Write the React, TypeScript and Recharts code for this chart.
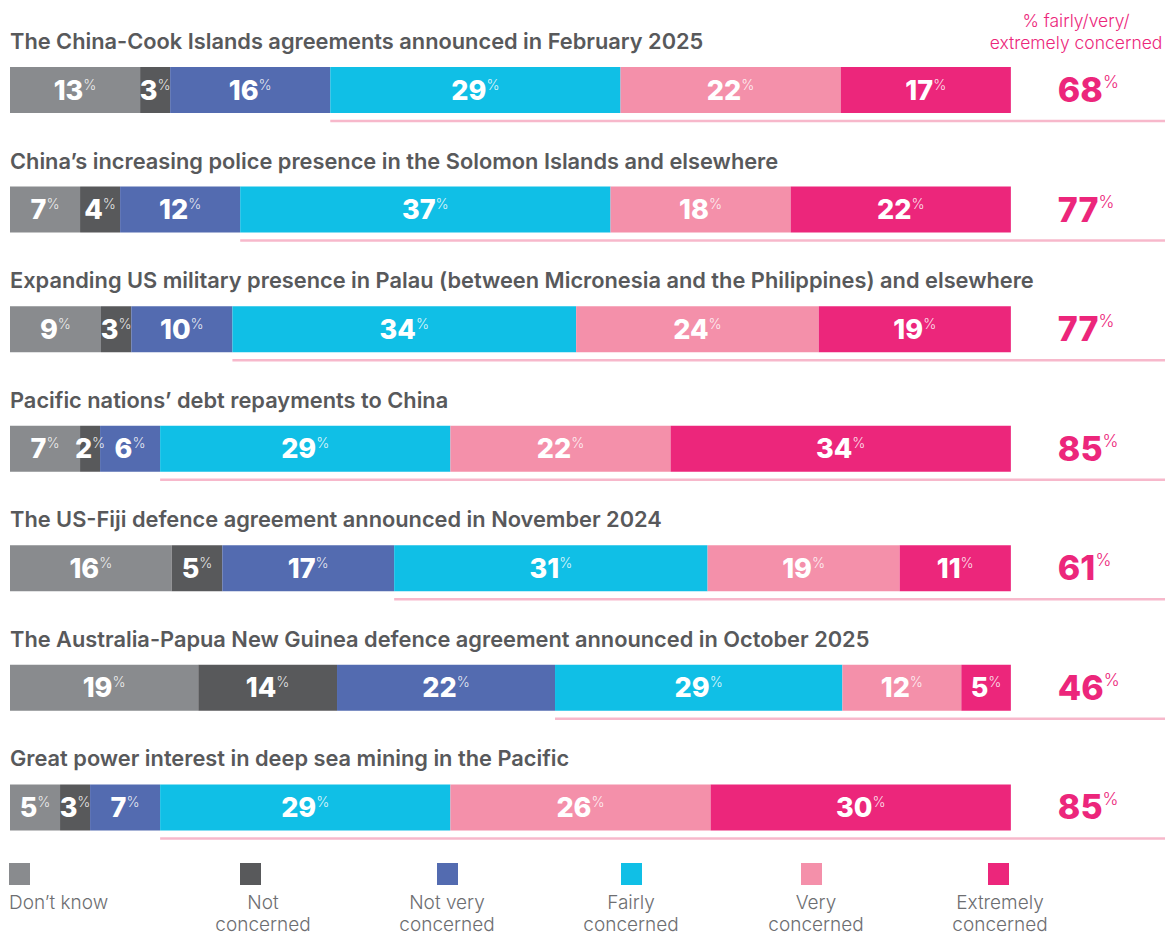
import { BarChart, Bar, XAxis, YAxis, LabelList } from "recharts";

const topics = [
  "The China-Cook Islands agreements announced in February 2025",
  "China\u2019s increasing police presence in the Solomon Islands and elsewhere",
  "Expanding US military presence in Palau (between Micronesia and the Philippines) and elsewhere",
  "Pacific nations\u2019 debt repayments to China",
  "The US-Fiji defence agreement announced in November 2024",
  "The Australia-Papua New Guinea defence agreement announced in October 2025",
  "Great power interest in deep sea mining in the Pacific",
];

const dontKnow = [13, 7, 9, 7, 16, 19, 5];
const notConcerned = [3, 4, 3, 2, 5, 14, 3];
const notVery = [16, 12, 10, 6, 17, 22, 7];
const fairly = [29, 37, 34, 29, 31, 29, 29];
const very = [22, 18, 24, 22, 19, 12, 26];
const extremely = [17, 22, 19, 34, 11, 5, 30];
const concernedTotals = [68, 77, 77, 85, 61, 46, 85];

const SERIES = [
  { key: "dontKnow", name: "Don\u2019t know", color: "#898b8e", values: dontKnow },
  { key: "notConcerned", name: "Not|concerned", color: "#58595b", values: notConcerned },
  { key: "notVery", name: "Not very|concerned", color: "#536bb0", values: notVery },
  { key: "fairly", name: "Fairly|concerned", color: "#10bfe6", values: fairly },
  { key: "very", name: "Very|concerned", color: "#f490aa", values: very },
  { key: "extremely", name: "Extremely|concerned", color: "#ec267b", values: extremely },
];

const PINK = "#ec267b";
const GREY_TEXT = "#58595b";
const W = 1166;
const H = 928;
const MARGIN = { top: 22, right: 9, bottom: 69, left: 2 };
const X_MAX = 115.4; // 100% sits at the end of the bars, the rest is room for the totals
const PLOT_END = W - MARGIN.right;

const data = topics.map((topic, i) => {
  const sum = SERIES.reduce((s, ser) => s + ser.values[i], 0);
  const row: Record<string, string | number> = { topic, total: concernedTotals[i] };
  SERIES.forEach((ser) => {
    row[ser.key] = (ser.values[i] / sum) * 100;
    row[ser.key + "Label"] = ser.values[i];
  });
  return row;
});

const NUM_FONT = "Inter, 'Open Sans', sans-serif";

const SegmentLabel = (props: any) => {
  const { x, y, width, height, value } = props;
  const cx = x + width / 2;
  const by = y + height / 2 + 9.5;
  return (
    <text x={cx} y={by} textAnchor="middle" fontFamily={NUM_FONT}>
      <tspan fontSize={27} fontWeight={800} fill="#fff">{value}</tspan>
      <tspan fontSize={14} fontWeight={300} fill="#fff" fillOpacity={0.85} dy={-10}>%</tspan>
    </text>
  );
};

const TitleLabel = (props: any) => {
  const { x, y, value } = props;
  return (
    <text x={x} y={y - 18} fontFamily={NUM_FONT} fontSize={21.8} fontWeight={600} fill={GREY_TEXT}>
      {value}
    </text>
  );
};

const TotalLabel = (props: any) => {
  const { x, y, width, value } = props;
  return (
    <text x={x + width + 47} y={y + 35} fontFamily={NUM_FONT} fill={PINK}>
      <tspan fontSize={34} fontWeight={800}>{value}</tspan>
      <tspan fontSize={17} fontWeight={300} dy={-14}>%</tspan>
    </text>
  );
};

const Underline = (props: any) => {
  const { x, y, height } = props;
  const ly = y + height + 8;
  return <line x1={x} x2={PLOT_END} y1={ly} y2={ly} stroke="#f7b8cb" strokeWidth={2.5} />;
};

const legendX = [1, 232, 429, 613, 793, 980];
const legendTextX = [1, 255, 439, 623, 808, 992];

export default function App() {
  return (
    <div style={{ position: "relative", width: W, height: H }}>
      <BarChart
        width={W}
        height={H}
        data={data}
        layout="vertical"
        margin={MARGIN}
        barSize={46}
      >
        <XAxis type="number" hide domain={[0, X_MAX]} allowDataOverflow />
        <YAxis type="category" dataKey="topic" hide />
        {SERIES.map((ser) => (
          <Bar
            key={ser.key}
            dataKey={ser.key}
            name={ser.name}
            stackId="a"
            fill={ser.color}
            isAnimationActive={false}
          >
            <LabelList dataKey={ser.key + "Label"} content={SegmentLabel} />
            {ser.key === "dontKnow" && <LabelList dataKey="topic" content={TitleLabel} />}
            {ser.key === "fairly" && <LabelList dataKey="fairly" content={Underline} />}
            {ser.key === "extremely" && <LabelList dataKey="total" content={TotalLabel} />}
          </Bar>
        ))}
      </BarChart>
      <svg
        width={W}
        height={H}
        style={{ position: "absolute", left: 0, top: 0, pointerEvents: "none" }}
      >
        <g fontFamily={NUM_FONT} fontSize={17.5} fontWeight={300} fill={PINK} textAnchor="middle">
          <text x={1068} y={19}>% fairly/very/</text>
          <text x={1068} y={41}>extremely concerned</text>
        </g>
        {SERIES.map((ser, i) => {
          const lines = ser.name.split("|");
          const anchor = i === 0 ? "start" : "middle";
          return (
            <g key={ser.key}>
              <rect x={legendX[i]} y={855} width={21} height={22} fill={ser.color} />
              {lines.map((ln, j) => (
                <text
                  key={j}
                  x={legendTextX[i]}
                  y={901 + j * 22}
                  textAnchor={anchor}
                  fontFamily={NUM_FONT}
                  fontSize={19}
                  fontWeight={300}
                  fill="#6d6e71"
                >
                  {ln}
                </text>
              ))}
            </g>
          );
        })}
      </svg>
    </div>
  );
}
